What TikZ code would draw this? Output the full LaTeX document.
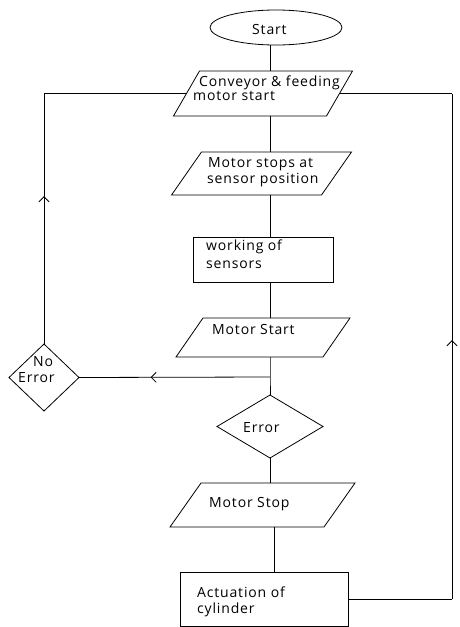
\documentclass[tikz,border=0pt]{standalone}
\usepackage{fontspec}
\setmainfont{Open Sans}[LetterSpace=6]
\usetikzlibrary{shapes.geometric,arrows.meta,decorations.markings}
\begin{document}
\begin{tikzpicture}[x=1pt,y=-1pt,
  line/.style={draw=black,line width=0.8pt},
  shapebox/.style={line,inner sep=0pt,outer sep=0pt},
  paranode/.style={inner sep=0pt,outer sep=0pt},
  lbl/.style={inner sep=0pt,anchor=base west,font=\fontsize{14}{16}\selectfont},
  midarrow/.style={postaction={decorate},decoration={markings,
    mark=at position #1 with {\arrow{Straight Barb[length=5pt,width=10pt]}}}}
]
\useasboundingbox (0,0) rectangle (460,627);

% shapes
\node[shapebox,ellipse,minimum width=132pt,minimum height=35pt] (start) at (276,27.5) {};
\node[paranode,minimum width=153pt,minimum height=45pt] (conv) at (263,93.5) {};
\node[paranode,minimum width=150pt,minimum height=43pt] (stops) at (261.5,173.5) {};
\node[shapebox,rectangle,minimum width=140pt,minimum height=45pt] (work) at (263,259.5) {};
\node[paranode,minimum width=147pt,minimum height=39pt] (mstart) at (263,337.5) {};
\node[shapebox,diamond,minimum width=70pt,minimum height=67pt] (noerr) at (44,377.5) {};
\node[shapebox,diamond,minimum width=106pt,minimum height=63pt] (err) at (270,426.5) {};
\node[paranode,minimum width=154pt,minimum height=44pt] (mstop) at (262.5,505) {};
\node[shapebox,rectangle,minimum width=168pt,minimum height=54pt] (act) at (264,599) {};

\foreach \n/\s in {conv/13,stops/15,mstart/13.5,mstop/15.5}
  \draw[line] ([xshift=-\s pt]\n.south west) -- ([xshift=-\s pt]\n.south east)
    -- ([xshift=\s pt]\n.north east) -- ([xshift=\s pt]\n.north west) -- cycle;

% texts
\node[lbl] (tstart) at (252,34) {Start};
\node[lbl] (tconv1) at (199,86) {Conveyor \& feeding};
\node[lbl] (tconv2) at (193,100) {motor start};
\node[lbl] (tstops1) at (208,167) {Motor stops at};
\node[lbl] (tstops2) at (207,183) {sensor position};
\node[lbl] (twork1) at (206,250) {working of};
\node[lbl] (twork2) at (206,268) {sensors};
\node[lbl] (tmstart) at (212,334) {Motor Start};
\node[lbl] (tno1) at (33,366) {No};
\node[lbl] (tno2) at (18,382) {Error};
\node[lbl] (terr) at (243,432) {Error};
\node[lbl] (tmstop) at (209,507) {Motor Stop};
\node[lbl] (tact1) at (197,597) {Actuation of};
\node[lbl] (tact2) at (197,613) {cylinder};

% connectors
\coordinate (jn) at (270,377);
\coordinate (ax2) at (274,0);
\coordinate (lc) at (noerr.north |- conv.west);
\coordinate (rb) at (452,599);
\coordinate (rt) at (rb |- conv.east);

\draw[line] (start.south -| jn) -- (conv.north -| jn);
\draw[line] (conv.south -| jn) -- (stops.north -| jn);
\draw[line] (stops.south -| jn) -- (work.north -| jn);
\draw[line] (work.south -| jn) -- (mstart.north -| jn);
\draw[line] (mstart.south -| jn) -- (jn) -- (err.north);
\draw[line,midarrow=0.625] (jn) -- (noerr.east);
\draw[line,midarrow=0.59] (noerr.north) -- (lc);
\draw[line] (lc) -- (conv.west);
\draw[line] (err.south) -- (mstop.north -| err.south);
\draw[line] (mstop.south -| ax2) -- (act.north -| ax2);
\draw[line] (act.east) -- (rb);
\draw[line,midarrow=0.512] (rb) -- (rt);
\draw[line] (rt) -- (conv.east);
\end{tikzpicture}
\end{document}
